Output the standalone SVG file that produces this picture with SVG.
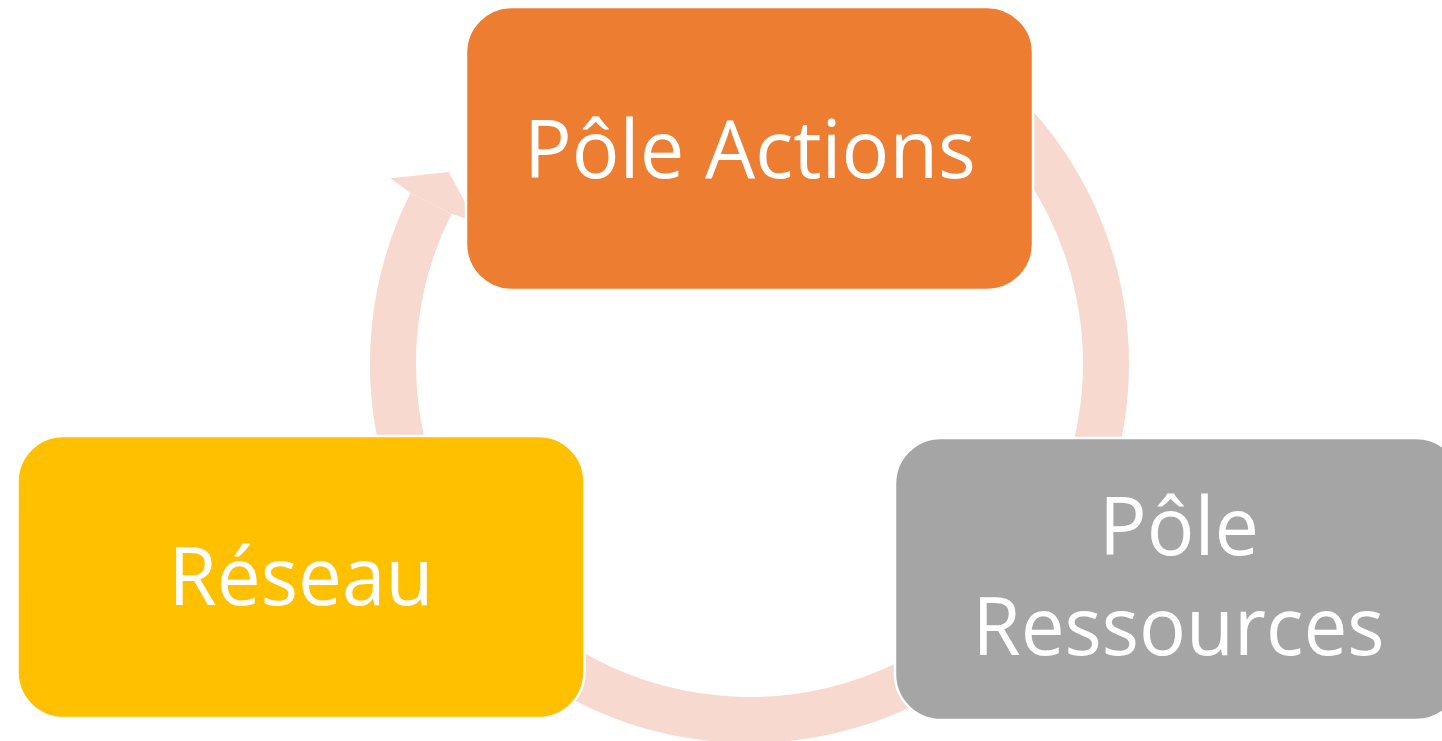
<svg xmlns="http://www.w3.org/2000/svg" width="1442" height="741" viewBox="0 0 1442 741">
  <style>
    .box { stroke: #FFFFFF; stroke-width: 2.5; }
    .lbl { font-family: "Open Sans", "Noto Sans", "Liberation Sans", sans-serif; font-size: 81px; fill: #FFFFFF; text-anchor: middle; }
    .ring { fill: none; stroke: #F8D9CF; stroke-width: 46; stroke-linecap: butt; }
    .head { fill: #F8D9CF; }
  </style>
  <rect x="0" y="0" width="1442" height="741" fill="#FFFFFF"/>
  <g id="connectors">
    <path class="ring" d="M 431.0 203.3 A 356.5 356.5 0 1 0 954.0 71.5"/>
    <polygon class="head" points="390.5,178.2 448.8,172.0 475.8,222.3 451.6,213.7 410.5,193.0"/>
  </g>
  <g id="node-actions">
    <rect class="box" x="466" y="7" width="567" height="283" rx="46" ry="46" fill="#ED7D31"/>
    <text class="lbl" x="750" y="178" textLength="452" lengthAdjust="spacingAndGlyphs">Pôle Actions</text>
  </g>
  <g id="node-ressources">
    <rect class="box" x="895" y="438" width="567" height="282" rx="46" ry="46" fill="#A5A5A5"/>
    <text class="lbl" x="1179" y="555" textLength="160" lengthAdjust="spacingAndGlyphs">Pôle</text>
    <text class="lbl" x="1178.5" y="655" textLength="412" lengthAdjust="spacingAndGlyphs">Ressources</text>
  </g>
  <g id="node-reseau">
    <rect class="box" x="17.5" y="436" width="567" height="282" rx="46" ry="46" fill="#FFC000"/>
    <text class="lbl" x="301" y="605" textLength="265" lengthAdjust="spacingAndGlyphs">Réseau</text>
  </g>
</svg>
